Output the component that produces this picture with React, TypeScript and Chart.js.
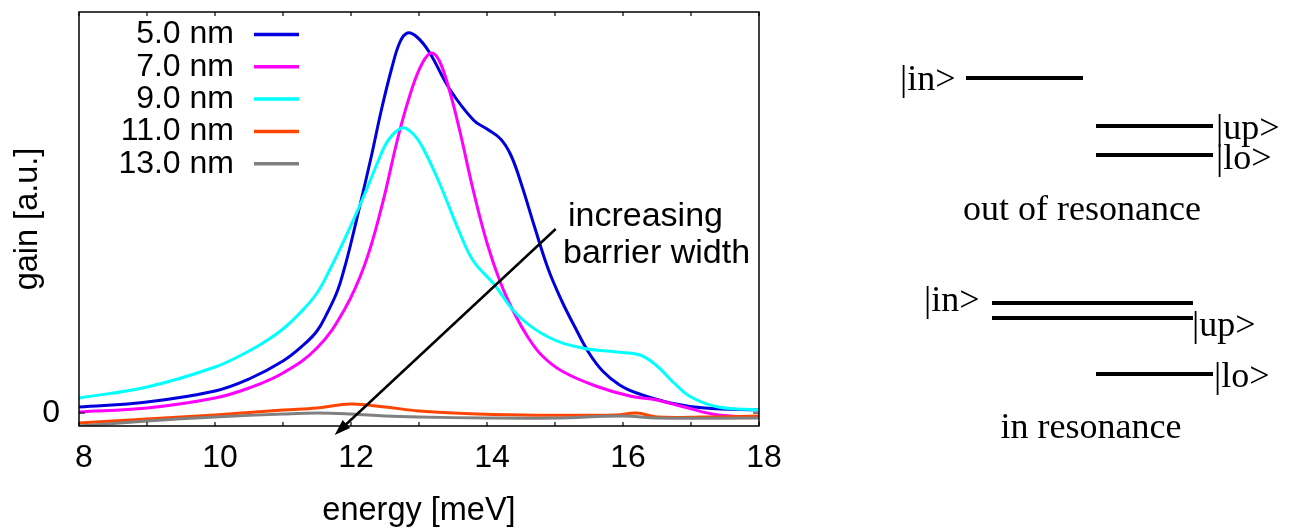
import React, { useEffect, useRef } from 'react';
import { Chart, registerables } from 'chart.js';

Chart.register(...registerables);

// ---------------- data ----------------
const seriesLabels = ['5.0 nm', '7.0 nm', '9.0 nm', '11.0 nm', '13.0 nm'];
const seriesColors = ['#0000dd', '#ff00ff', '#00ffff', '#ff4500', '#808080'];

const energy5 = [8.0, 9.0, 10.0, 10.5, 11.0, 11.3, 11.5, 11.65, 11.8, 11.9, 12.0, 12.15, 12.3, 12.45, 12.6, 12.72, 12.83, 12.97, 13.15, 13.45, 13.8, 14.0, 14.2, 14.35, 14.5, 14.7, 14.9, 15.1, 15.3, 15.5, 15.7, 15.95, 16.2, 16.7, 17.2, 18.0];
const gain5 = [0.06, 0.11, 0.22, 0.34, 0.52, 0.68, 0.82, 1.00, 1.22, 1.44, 1.70, 2.13, 2.57, 3.04, 3.45, 3.71, 3.80, 3.76, 3.61, 3.24, 2.93, 2.84, 2.74, 2.58, 2.30, 1.86, 1.44, 1.12, 0.85, 0.60, 0.42, 0.28, 0.20, 0.10, 0.05, 0.03];

const energy7 = [8.0, 9.0, 10.0, 10.5, 11.0, 11.5, 11.9, 12.2, 12.45, 12.7, 12.9, 13.05, 13.18, 13.3, 13.45, 13.6, 13.8, 14.0, 14.2, 14.4, 14.6, 14.8, 15.1, 15.6, 16.1, 16.5, 16.9, 17.4, 18.0];
const gain7 = [0.01, 0.05, 0.15, 0.25, 0.40, 0.65, 1.03, 1.48, 2.06, 2.78, 3.25, 3.50, 3.60, 3.52, 3.22, 2.82, 2.22, 1.70, 1.30, 1.00, 0.76, 0.58, 0.42, 0.27, 0.17, 0.13, 0.06, -0.02, -0.04];

const energy9 = [8.0, 9.0, 10.0, 10.5, 10.75, 11.0, 11.25, 11.5, 11.7, 11.9, 12.1, 12.25, 12.4, 12.55, 12.75, 12.9, 13.05, 13.3, 13.6, 13.8, 14.1, 14.45, 14.9, 15.4, 15.9, 16.25, 16.5, 16.75, 17.0, 17.4, 18.0];
const gain9 = [0.15, 0.26, 0.46, 0.62, 0.72, 0.84, 1.00, 1.20, 1.45, 1.73, 2.03, 2.27, 2.52, 2.73, 2.85, 2.80, 2.66, 2.30, 1.80, 1.52, 1.29, 0.98, 0.76, 0.65, 0.61, 0.58, 0.47, 0.30, 0.16, 0.06, 0.03];

const energy11 = [8.0, 9.0, 10.0, 11.0, 11.5, 12.0, 12.5, 13.0, 13.5, 14.5, 15.9, 16.2, 16.5, 17.2, 18.0];
const gain11 = [-0.10, -0.06, -0.02, 0.03, 0.05, 0.09, 0.06, 0.02, 0.00, -0.02, -0.02, 0.00, -0.04, -0.04, -0.03];

const energy13 = [8.0, 9.0, 10.0, 11.0, 11.5, 12.0, 12.5, 13.0, 14.0, 15.0, 16.0, 16.5, 18.0];
const gain13 = [-0.13, -0.08, -0.04, -0.01, 0.00, -0.01, -0.03, -0.04, -0.05, -0.05, -0.03, -0.05, -0.05];

const xTickValues = [8, 10, 12, 14, 16, 18];
const xMinorTickValues = [8, 9, 10, 11, 12, 13, 14, 15, 16, 17, 18];
const yTickValues = [0];
const xMin = 8;
const xMax = 18;
const yMin = -0.13;
const yMax = 4.01;

const arrowFrom = [15.01, 1.84];
const arrowTo = [11.76, -0.22];
const annotationLines = ['increasing', 'barrier width'];

const xTitle = 'energy [meV]';
const yTitle = 'gain [a.u.]';

const energies = [energy5, energy7, energy9, energy11, energy13];
const gains = [gain5, gain7, gain9, gain11, gain13];

const SANS = "'Liberation Sans', Arial, sans-serif";
const SERIF = "'Liberation Serif', 'Times New Roman', serif";

// ---------------- plugins ----------------
const framePlugin = {
  id: 'frameTicks',
  afterDatasetsDraw(chart: any) {
    const { ctx, chartArea, scales } = chart;
    const { left, right, top, bottom } = chartArea;
    ctx.save();
    ctx.strokeStyle = '#000';
    ctx.lineWidth = 1.5;
    ctx.strokeRect(left, top, right - left, bottom - top);
    ctx.lineWidth = 1.2;
    ctx.beginPath();
    for (const v of xMinorTickValues) {
      const px = scales.x.getPixelForValue(v);
      ctx.moveTo(px, bottom);
      ctx.lineTo(px, bottom - 4);
      ctx.moveTo(px, top);
      ctx.lineTo(px, top + 4);
    }
    for (const v of yTickValues) {
      const py = scales.y.getPixelForValue(v);
      ctx.moveTo(left, py);
      ctx.lineTo(left + 6, py);
      ctx.moveTo(right, py);
      ctx.lineTo(right - 6, py);
    }
    ctx.stroke();
    ctx.restore();
  },
};

const legendPlugin = {
  id: 'gnuLegend',
  afterDraw(chart: any) {
    const { ctx } = chart;
    ctx.save();
    ctx.font = `32px ${SANS}`;
    ctx.textAlign = 'right';
    ctx.textBaseline = 'middle';
    chart.data.datasets.forEach((ds: any, i: number) => {
      const y = 34.5 + i * 32.3;
      ctx.fillStyle = '#000';
      ctx.fillText(ds.label, 234, y);
      ctx.strokeStyle = ds.borderColor;
      ctx.lineWidth = 3.5;
      ctx.beginPath();
      ctx.moveTo(254, y);
      ctx.lineTo(299, y);
      ctx.stroke();
    });
    ctx.restore();
  },
};

const arrowPlugin = {
  id: 'arrowNote',
  afterDraw(chart: any) {
    const { ctx, scales } = chart;
    const x1 = scales.x.getPixelForValue(arrowFrom[0]);
    const y1 = scales.y.getPixelForValue(arrowFrom[1]);
    const x2 = scales.x.getPixelForValue(arrowTo[0]);
    const y2 = scales.y.getPixelForValue(arrowTo[1]);
    const ang = Math.atan2(y2 - y1, x2 - x1);
    const headLen = 16;
    const headW = 5.5;
    ctx.save();
    ctx.strokeStyle = '#000';
    ctx.fillStyle = '#000';
    ctx.lineWidth = 2.5;
    ctx.beginPath();
    ctx.moveTo(x1, y1);
    ctx.lineTo(x2 - Math.cos(ang) * headLen * 0.8, y2 - Math.sin(ang) * headLen * 0.8);
    ctx.stroke();
    ctx.beginPath();
    ctx.moveTo(x2, y2);
    const bx = x2 - Math.cos(ang) * headLen;
    const by = y2 - Math.sin(ang) * headLen;
    ctx.lineTo(bx + Math.sin(ang) * headW, by - Math.cos(ang) * headW);
    ctx.lineTo(bx - Math.sin(ang) * headW, by + Math.cos(ang) * headW);
    ctx.closePath();
    ctx.fill();

    ctx.font = `34px ${SANS}`;
    ctx.textAlign = 'left';
    ctx.textBaseline = 'alphabetic';
    ctx.fillText(annotationLines[0], 568, 226);
    ctx.fillText(annotationLines[1], 563, 262.5);
    ctx.restore();
  },
};

const diagramPlugin = {
  id: 'levelDiagram',
  afterDraw(chart: any) {
    const { ctx } = chart;
    ctx.save();
    ctx.strokeStyle = '#000';
    ctx.fillStyle = '#000';
    ctx.lineWidth = 4;
    const seg = (xa: number, xb: number, y: number) => {
      ctx.beginPath();
      ctx.moveTo(xa, y);
      ctx.lineTo(xb, y);
      ctx.stroke();
    };
    // out of resonance
    seg(966, 1083, 78);
    seg(1096, 1213, 126);
    seg(1096, 1213, 155);
    // in resonance
    seg(992, 1193, 303);
    seg(992, 1193, 318);
    seg(1096, 1213, 374);

    ctx.textBaseline = 'alphabetic';
    ctx.textAlign = 'left';
    ctx.font = `36px ${SERIF}`;
    ctx.fillText('|in>', 900, 90);
    ctx.fillText('|up>', 1216, 139);
    ctx.fillText('|lo>', 1216, 169);
    ctx.fillText('|in>', 924, 311);
    ctx.fillText('|up>', 1192, 336);
    ctx.fillText('|lo>', 1214, 387);
    ctx.textAlign = 'center';
    ctx.fillText('out of resonance', 1082, 220);
    ctx.fillText('in resonance', 1091, 438);
    ctx.restore();
  },
};

// ---------------- component ----------------
export default function App() {
  const canvasRef = useRef<HTMLCanvasElement | null>(null);

  useEffect(() => {
    document.body.style.margin = '0';
    const canvas = canvasRef.current;
    if (!canvas) return;
    Chart.defaults.font.family = SANS;
    Chart.defaults.color = '#000';

    const datasets = seriesLabels.map((label, i) => ({
      label,
      data: energies[i].map((e, j) => ({ x: e, y: gains[i][j] })),
      borderColor: seriesColors[i],
      backgroundColor: seriesColors[i],
      borderWidth: 3,
      pointRadius: 0,
      fill: false,
      tension: 0.4,
      borderJoinStyle: 'round' as const,
      order: seriesLabels.length - i,
    }));

    const chart = new Chart(canvas, {
      type: 'line',
      data: { datasets },
      options: {
        animation: false,
        responsive: false,
        devicePixelRatio: 1,
        layout: { padding: { top: 12, right: 532, left: 0, bottom: 0 } },
        plugins: {
          legend: { display: false },
          tooltip: { enabled: false },
        },
        scales: {
          x: {
            type: 'linear',
            min: xMin,
            max: xMax,
            afterBuildTicks: (s: any) => {
              s.ticks = xTickValues.map((v) => ({ value: v }));
            },
            afterFit: (s: any) => {
              s.height = 101;
              s.paddingLeft = 0;
              s.paddingRight = 0;
            },
            grid: { display: false, drawTicks: false },
            border: { display: false },
            ticks: {
              font: { size: 32, lineHeight: 1 },
              color: '#000',
              padding: 16,
              labelOffset: 5,
              maxRotation: 0,
              autoSkip: false,
            },
            title: {
              display: true,
              text: xTitle,
              color: '#000',
              font: { size: 32.5, lineHeight: 1 },
              padding: { top: 3.75, bottom: 0 },
            },
          },
          y: {
            type: 'linear',
            min: yMin,
            max: yMax,
            afterBuildTicks: (s: any) => {
              s.ticks = yTickValues.map((v) => ({ value: v }));
            },
            afterFit: (s: any) => {
              s.width = 79;
              s.paddingTop = 0;
              s.paddingBottom = 0;
            },
            grid: { display: false, drawTicks: false },
            border: { display: false },
            ticks: {
              font: { size: 32, lineHeight: 1 },
              color: '#000',
              padding: 19,
              callback: (v: any) => String(v),
            },
            title: {
              display: true,
              text: yTitle,
              color: '#000',
              font: { size: 32.5, lineHeight: 1 },
              padding: { top: 11.75, bottom: 0 },
            },
          },
        },
      },
      plugins: [framePlugin, legendPlugin, arrowPlugin, diagramPlugin],
    });

    return () => {
      chart.destroy();
    };
  }, []);

  return (
    <div style={{ position: 'absolute', left: 0, top: 0, width: 1291, height: 527 }}>
      <canvas ref={canvasRef} width={1291} height={527} style={{ display: 'block' }} />
    </div>
  );
}
